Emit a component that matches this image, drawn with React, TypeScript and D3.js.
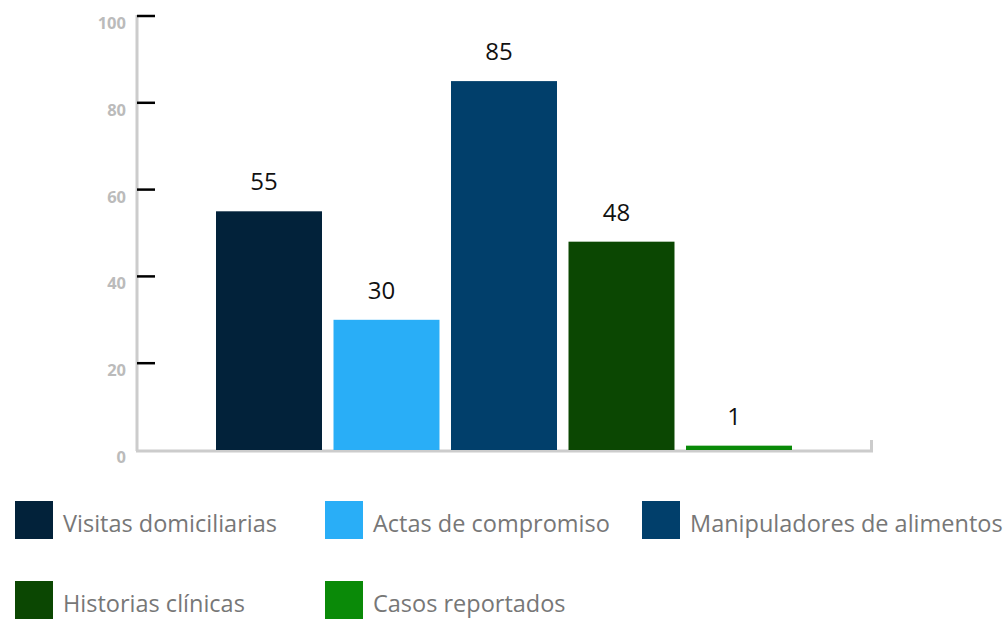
import React from "react";
import * as d3 from "d3";

const categories = ["Visitas domiciliarias", "Actas de compromiso", "Manipuladores de alimentos", "Historias clínicas", "Casos reportados"];
const values = [55, 30, 85, 48, 1];
const colors = ["#02223a", "#29aef7", "#013f6b", "#0b4702", "#0a8a08"];
const yTicks = [0, 20, 40, 60, 80, 100];

const W = 1008;
const H = 621;

export default function App() {
  const y = d3.scaleLinear().domain([0, 100]).range([450, 16]);
  const x = d3
    .scaleBand<string>()
    .domain(categories)
    .range([210.25, 797.75])
    .paddingInner(0.098)
    .paddingOuter(0.049);

  const legendCols = [15, 325, 642];
  const legendRows = [501, 581];
  const font = "'Open Sans', 'Noto Sans', sans-serif";

  return (
    <svg width={W} height={H} style={{ position: "absolute", left: 0, top: 0 }} fontFamily={font}>
      {/* y axis */}
      <line x1={137} x2={137} y1={15} y2={451} stroke="#cccccc" strokeWidth={3} />
      {yTicks.map((t) => (
        <g key={t}>
          {t !== 0 && (
            <line x1={137} x2={155} y1={y(t)} y2={y(t)} stroke="#000" strokeWidth={2.5} />
          )}
          <text
            x={126}
            y={y(t) + 13}
            textAnchor="end"
            fontSize={16.5}
            fontWeight="bold"
            fill="#bbbbbb"
          >
            {t}
          </text>
        </g>
      ))}
      {/* x axis */}
      <line x1={136} x2={873} y1={451} y2={451} stroke="#cccccc" strokeWidth={3} />
      <line x1={871.5} x2={871.5} y1={440} y2={452} stroke="#cccccc" strokeWidth={3} />
      {/* bars */}
      {categories.map((c, i) => (
        <g key={c}>
          <rect
            x={x(c)}
            y={y(values[i])}
            width={x.bandwidth()}
            height={y(0) - y(values[i])}
            fill={colors[i]}
          />
          <text
            x={(x(c) as number) + x.bandwidth() / 2 - 5}
            y={y(values[i]) - 21}
            textAnchor="middle"
            fontSize={24}
            fill="#111"
          >
            {values[i]}
          </text>
        </g>
      ))}
      {/* legend */}
      {categories.map((c, i) => {
        const lx = legendCols[i % 3];
        const ly = legendRows[Math.floor(i / 3)];
        return (
          <g key={"l" + c}>
            <rect x={lx} y={ly} width={38} height={38} fill={colors[i]} />
            <text x={lx + 48} y={ly + 31} fontSize={23.5} fill="#777777">
              {c}
            </text>
          </g>
        );
      })}
    </svg>
  );
}
